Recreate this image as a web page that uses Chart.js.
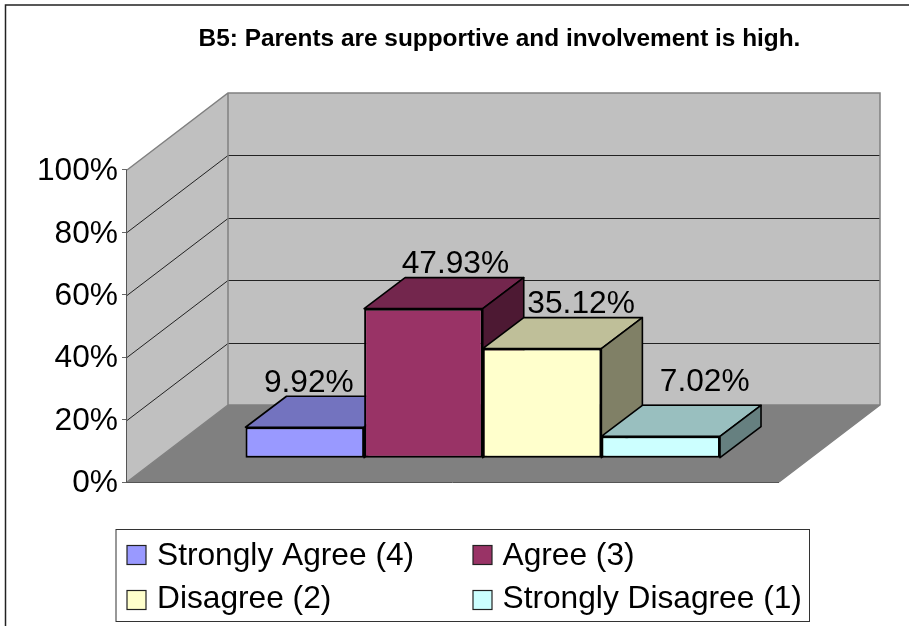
<!DOCTYPE html>
<html><head><meta charset="utf-8">
<style>html,body{margin:0;padding:0;background:#fff}canvas{display:block}</style>
<script src="https://cdn.jsdelivr.net/npm/chart.js@4/dist/chart.umd.js"></script>
</head><body>
<div style="position:relative;width:909px;height:626px"><canvas id="c"></canvas></div>
<script>
const titleText = 'B5: Parents are supportive and involvement is high.';
const categories = ['B5'];
const seriesNames = ['Strongly Agree (4)', 'Agree (3)', 'Disagree (2)', 'Strongly Disagree (1)'];
const seriesValues = [9.92, 47.93, 35.12, 7.02];
const valueLabels = ['9.92%', '47.93%', '35.12%', '7.02%'];
const tickValues = [0, 20, 40, 60, 80, 100];
const frontColors = ['#9999FF', '#993366', '#FFFFCC', '#CCFFFF'];
const topColors = ['#7373BF', '#73264D', '#BFBF99', '#99BFBF'];
const sideColors = ['#4D4D80', '#4D1933', '#808066', '#668080'];

const FONT = '"Liberation Sans", Arial, sans-serif';
const wall = {dx: 101, dy: -77};      // plot-box depth
const barPlane = {dx: 29.75, dy: -23.8}; // front plane of the bars inside the box
const barDepth = {dx: 41, dy: -31};
const labelShift = [{x: 4, y: -35.5}, {x: 32, y: -36}, {x: 39, y: -36}, {x: 44, y: -45.5}];

const scene3d = {
  id: 'scene3d',
  beforeDatasetsDraw(chart) {
    const {ctx, chartArea: a, scales: {y}} = chart;
    const poly = (pts, fill, stroke, lw) => {
      ctx.beginPath();
      pts.forEach((p, i) => i ? ctx.lineTo(p[0], p[1]) : ctx.moveTo(p[0], p[1]));
      ctx.closePath();
      if (fill) { ctx.fillStyle = fill; ctx.fill(); }
      if (stroke) { ctx.strokeStyle = stroke; ctx.lineWidth = lw || 1; ctx.stroke(); }
    };
    const L = a.left, R = a.right, T = y.getPixelForValue(100), B = y.getPixelForValue(0);
    const dx = wall.dx, dy = wall.dy;
    ctx.save();
    poly([[L, T], [L + dx, T + dy], [L + dx, B + dy], [L, B]], '#C0C0C0');
    poly([[L + dx, T + dy], [R + dx, T + dy], [R + dx, B + dy], [L + dx, B + dy]], '#C0C0C0');
    poly([[L, B], [L + dx, B + dy], [R + dx, B + dy], [R, B]], '#808080');
    // gridlines on walls
    ctx.strokeStyle = '#222'; ctx.lineWidth = 1;
    tickValues.slice(1, -1).forEach(v => {
      const p = Math.round(y.getPixelForValue(v)) + 0.5;
      ctx.beginPath();
      ctx.moveTo(L, p); ctx.lineTo(L + dx, p + dy); ctx.lineTo(R + dx, p + dy);
      ctx.stroke();
    });
    // wall outlines
    ctx.strokeStyle = '#808080'; ctx.lineWidth = 1.5;
    ctx.beginPath();
    ctx.moveTo(L, T); ctx.lineTo(L + dx, T + dy); ctx.lineTo(R + dx, T + dy);
    ctx.lineTo(R + dx, B + dy); ctx.lineTo(R, B);
    ctx.moveTo(L + dx, T + dy); ctx.lineTo(L + dx, B + dy); ctx.lineTo(L, B);
    ctx.moveTo(L + dx, B + dy); ctx.lineTo(R + dx, B + dy);
    ctx.stroke();
    // bars, left to right
    seriesValues.forEach((_, i) => {
      const meta = chart.getDatasetMeta(i);
      const bar = meta.data[0];
      const x0 = bar.x - bar.width / 2 + barPlane.dx, x1 = bar.x + bar.width / 2 + barPlane.dx;
      const yt = bar.y + barPlane.dy, yb = bar.base + barPlane.dy;
      const bx = barDepth.dx, by = barDepth.dy;
      ctx.lineJoin = 'round';
      poly([[x0, yt], [x0 + bx, yt + by], [x1 + bx, yt + by], [x1, yt]], topColors[i], '#000', 1.6);
      poly([[x1, yt], [x1 + bx, yt + by], [x1 + bx, yb + by], [x1, yb]], sideColors[i], '#000', 1.6);
      ctx.save();
      ctx.translate(barPlane.dx, barPlane.dy);
      meta.controller.draw();
      ctx.restore();
    });
    ctx.restore();
    // front axis line over floor
    ctx.save();
    ctx.strokeStyle = '#555'; ctx.lineWidth = 1;
    ctx.beginPath();
    ctx.moveTo(L - 0.5, T); ctx.lineTo(L - 0.5, B + 0.5); ctx.lineTo(R, B + 0.5);
    ctx.stroke();
    ctx.restore();
    // value labels
    ctx.save();
    ctx.font = '31.7px ' + FONT;
    ctx.fillStyle = '#000'; ctx.textAlign = 'center'; ctx.textBaseline = 'alphabetic';
    seriesValues.forEach((_, i) => {
      const bar = chart.getDatasetMeta(i).data[0];
      ctx.fillText(valueLabels[i], bar.x + barPlane.dx + labelShift[i].x, bar.y + barPlane.dy + labelShift[i].y);
    });
    ctx.restore();
    return false;
  },
  afterDraw(chart) {
    const {ctx} = chart;
    ctx.save();
    // outer frame
    ctx.strokeStyle = '#222'; ctx.lineWidth = 1.5;
    ctx.strokeRect(5.5, 5, 1000, 1000);
    // legend
    ctx.fillStyle = '#fff'; ctx.strokeStyle = '#333'; ctx.lineWidth = 1;
    ctx.fillRect(116, 529.5, 693.5, 92);
    ctx.strokeRect(116, 529.5, 693.5, 92);
    const cols = [{sw: 127, tx: 157}, {sw: 473, tx: 502.5}];
    const rows = [{sw: 545.5, base: 565}, {sw: 590.5, base: 608}];
    ctx.font = '31.7px ' + FONT; ctx.textBaseline = 'alphabetic'; ctx.textAlign = 'left';
    seriesNames.forEach((n, i) => {
      const c = cols[i % 2], r = rows[i >> 1];
      ctx.fillStyle = frontColors[i]; ctx.strokeStyle = '#222'; ctx.lineWidth = 1.2;
      ctx.fillRect(c.sw, r.sw, 19, 19); ctx.strokeRect(c.sw, r.sw, 19, 19);
      ctx.fillStyle = '#000'; ctx.fillText(n, c.tx, r.base);
    });
    ctx.restore();
  },
  afterLayout(chart) {
    const t = chart.titleBlock;
    if (t) { t.left = 90; t.right = 909; }
  }
};

new Chart(document.getElementById('c'), {
  type: 'bar',
  data: {
    labels: categories,
    datasets: seriesNames.map((n, i) => ({
      label: n,
      data: [seriesValues[i]],
      backgroundColor: frontColors[i],
      borderColor: '#000',
      borderWidth: 2,
      borderSkipped: false
    }))
  },
  options: {
    responsive: true,
    maintainAspectRatio: false,
    animation: false,
    layout: {padding: {left: 0, right: 130, top: 0, bottom: 144}},
    datasets: {bar: {categoryPercentage: 0.7278, barPercentage: 1}},
    scales: {
      x: {display: false},
      y: {
        min: 0, max: 100,
        afterFit(s) { s.width = 127; },
        afterBuildTicks(s) { s.ticks = tickValues.map(v => ({value: v})); },
        afterUpdate(s) {
          if (s._nudged) return;
          s._nudged = true;
          const orig = s.drawLabels;
          s.drawLabels = function (area) {
            s.ctx.save();
            s.ctx.translate(0, 1.5);
            orig.call(s, area);
            s.ctx.restore();
          };
        },
        ticks: {
          color: '#000',
          padding: 4,
          font: {family: FONT, size: 31.7},
          callback: v => v + '%'
        },
        grid: {drawOnChartArea: false, tickLength: 5, color: '#666'},
        border: {display: false}
      }
    },
    plugins: {
      legend: {display: false},
      tooltip: {enabled: false},
      title: {
        display: true,
        text: titleText,
        color: '#000',
        font: {family: FONT, size: 24.4, weight: 'bold'},
        padding: {top: 24.5, bottom: 116.2}
      }
    }
  },
  plugins: [scene3d]
});
</script>
</body></html>
